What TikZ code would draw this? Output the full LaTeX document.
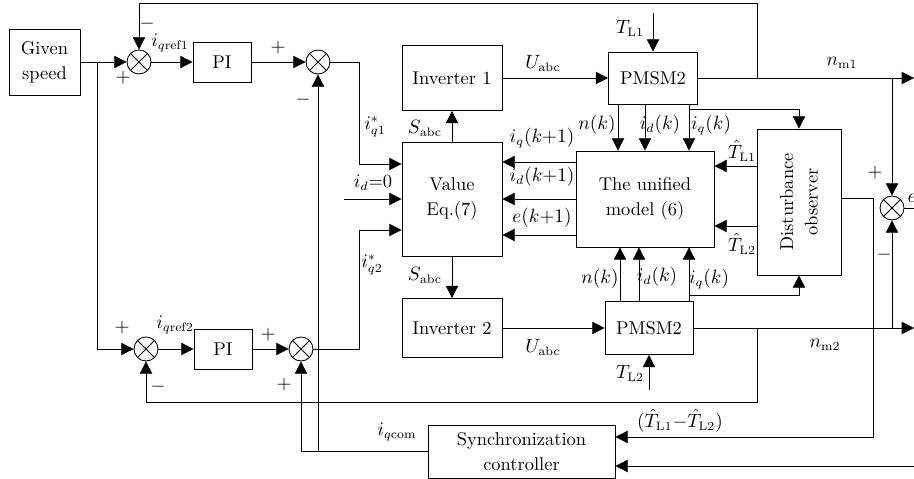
\documentclass[tikz,border=0pt]{standalone}
\usetikzlibrary{arrows.meta,calc}

\begin{document}
\begin{tikzpicture}[x=0.02cm,y=-0.02cm,line width=0.5pt,
  font=\fontsize{10.5}{14}\selectfont,
  >={Triangle[length=7pt,width=7pt]},
  blk/.style={draw,align=center,inner sep=1pt},
  sum/.style={draw,circle,minimum size=0.48cm,inner sep=0pt,
    path picture={\draw (path picture bounding box.north west) -- (path picture bounding box.south east)
      (path picture bounding box.north east) -- (path picture bounding box.south west);}},
  lbl/.style={inner sep=0.5pt}]
  \useasboundingbox (0,0) rectangle (914,479);

  % blocks
  \node[blk,minimum width=1.42cm,minimum height=1.32cm] (speed) at (44.5,62) {Given\\speed};
  \node[sum] (s1) at (139,62) {};
  \node[blk,minimum width=1.16cm,minimum height=0.8cm] (pi1) at (222,62) {PI};
  \node[sum] (s3) at (318,62) {};
  \node[sum] (s2) at (146,349) {};
  \node[blk,minimum width=1.16cm,minimum height=0.8cm] (pi2) at (223,349) {PI};
  \node[sum] (s4) at (301,349) {};
  \node[blk,minimum width=2cm,minimum height=2.28cm] (value) at (452,199) {Value\\Eq.(7)};
  \node[blk,minimum width=2cm,minimum height=1.3cm] (inv1) at (452,78) {Inverter 1};
  \node[blk,minimum width=2cm,minimum height=1.18cm] (inv2) at (452,328) {Inverter 2};
  \node[blk,minimum width=1.78cm,minimum height=1.04cm] (pmA) at (653,78) {PMSM2};
  \node[blk,minimum width=1.76cm,minimum height=1.06cm] (pmB) at (649,328) {PMSM2};
  \node[blk,minimum width=2.76cm,minimum height=1.92cm] (uni) at (645,199) {The unified\\model (6)};
  \node[blk,minimum width=1.68cm,minimum height=2.92cm] (obs) at (799,202) {};
  \node[rotate=90,align=center] (obstxt) at (obs) {Disturbance\\observer};
  \node[sum] (se) at (892,208) {};
  \node[blk,minimum width=3.74cm,minimum height=1.06cm] (sync) at (521.5,451.5) {Synchronization\\controller};

  % speed loops
  \coordinate (b1) at (97,62);
  \draw[->] (speed.east) -- (s1.west);
  \draw[->] (b1) |- (s2.west);
  \draw[->] (s1.east) -- (pi1.west);
  \draw[->] (pi1.east) -- (s3.west);
  \draw[->] (s2.east) -- (pi2.west);
  \draw[->] (pi2.east) -- (s4.west);

  % current references into Value
  \coordinate (c1) at (359,164);
  \coordinate (c2) at (344,199);
  \coordinate (c3) at (359,230);
  \draw[->] (s3.east) -| (c1) -- (c1 -| value.west);
  \draw[->] (c2) -- (value.west);
  \draw[->] (s4.east) -| (c3) -- (c3 -| value.west);

  % inverters and motors
  \draw[->] (value.north) -- (inv1.south);
  \draw[->] (value.south) -- (inv2.north);
  \draw[->] (inv1.east) -- (pmA.west);
  \draw[->] (inv2.east) -- (pmB.west);
  \coordinate (tl1) at (653,13);
  \coordinate (tl2) at (649,390);
  \draw[->] (tl1) -- (pmA.north);
  \draw[->] (tl2) -- (pmB.south);

  % measured states into the model
  \foreach \x [count=\i] in {618,645,689} {
    \coordinate (na\i) at (\x,0);
    \draw[->] (na\i |- pmA.south) -- (na\i |- uni.north);
  }
  \foreach \x [count=\i] in {620,639,689} {
    \coordinate (nb\i) at (\x,0);
    \draw[->] (nb\i |- pmB.north) -- (nb\i |- uni.south);
  }
  \coordinate (ba) at (689,109);
  \coordinate (bb) at (689,295);
  \draw[->] (ba) -| (obs.north);
  \draw[->] (bb) -| (obs.south);

  % predictions back to Value
  \foreach \y [count=\i] in {162,199,235} {
    \coordinate (u\i) at (0,\y);
    \draw[->] (u\i -| uni.west) -- (u\i -| value.east);
  }
  \foreach \y [count=\i] in {166,226} {
    \coordinate (o\i) at (0,\y);
    \draw[->] (o\i -| obs.west) -- (o\i -| uni.east);
  }

  % speed outputs and feedback
  \coordinate (out1) at (914,78);
  \coordinate (out2) at (914,328);
  \coordinate (out3) at (914,208);
  \draw[->] (pmA.east) -- (out1);
  \draw[->] (pmB.east) -- (out2);
  \coordinate (f1) at (757,78);
  \coordinate (t1) at (139,3);
  \coordinate (f2) at (757,328);
  \coordinate (t2) at (146,402);
  \draw[->] (f1) |- (t1) -- (s1.north);
  \draw[->] (f2) |- (t2) -- (s2.south);
  \draw[->] (se |- out1) -- (se.north);
  \draw[->] (se |- out2) -- (se.south);
  \draw (se.east) -- (out3);

  % synchronization path
  \coordinate (ob1) at (873,198);
  \coordinate (ob2) at (873,437);
  \coordinate (rin) at (914,466);
  \draw[->] (ob1 -| obs.east) -- (ob1) -- (ob2) -- (ob2 -| sync.east);
  \draw[->] (rin) -- (rin -| sync.east);
  \draw[->] (sync.west) -| (s4.south);
  \draw[->] (s3 |- sync.west) -- (s3.south);

  % labels
  \node[lbl] (lq1) at (170,43) {$i_{q\mathrm{ref1}}$};
  \node[lbl] (lq2) at (175,325) {$i_{q\mathrm{ref2}}$};
  \node[lbl] (p1) at (123,78) {$+$};
  \node[lbl] (m1) at (147,24) {$-$};
  \node[lbl] (p3) at (278,48) {$+$};
  \node[lbl] (m3) at (303,100) {$-$};
  \node[lbl] (p2) at (122,328) {$+$};
  \node[lbl] (m2) at (158,387) {$-$};
  \node[lbl] (p4a) at (268,335) {$+$};
  \node[lbl] (p4b) at (284,385) {$+$};
  \node[lbl] (pe) at (875,173) {$+$};
  \node[lbl] (me) at (884,255) {$-$};
  \node[lbl] (le) at (912,198) {$e$};
  \node[lbl] (liq1) at (375,127) {$i_{q1}^{*}$};
  \node[lbl] (lid0) at (373,183) {$i_d$=0};
  \node[lbl] (liq2) at (372,265) {$i_{q2}^{*}$};
  \node[lbl] (ls1) at (425,128) {$S_{\mathrm{abc}}$};
  \node[lbl] (ls2) at (425,275) {$S_{\mathrm{abc}}$};
  \node[lbl] (lu1) at (543,63) {$U_{\mathrm{abc}}$};
  \node[lbl] (lu2) at (543,347) {$U_{\mathrm{abc}}$};
  \node[lbl] (lt1) at (630,28) {$T_{\mathrm{L1}}$};
  \node[lbl] (lt2) at (630,373) {$T_{\mathrm{L2}}$};
  \node[lbl] (lna) at (597,125) {$n(k)$};
  \node[lbl] (lida) at (660,125) {$i_d(k)$};
  \node[lbl] (liqa) at (711,125) {$i_q(k)$};
  \node[lbl] (lnb) at (600,279) {$n(k)$};
  \node[lbl] (lidb) at (657,277) {$i_d(k)$};
  \node[lbl] (liqb) at (709,279) {$i_q(k)$};
  \node[lbl] (lpq) at (542,138) {$i_q(k{+}1)$};
  \node[lbl] (lpd) at (542,177) {$i_d(k{+}1)$};
  \node[lbl] (lpe) at (542,218) {$e(k{+}1)$};
  \node[lbl] (lh1) at (742,151) {$\hat{T}_{\mathrm{L1}}$};
  \node[lbl] (lh2) at (742,244) {$\hat{T}_{\mathrm{L2}}$};
  \node[lbl] (lnm1) at (842,63) {$n_{\mathrm{m1}}$};
  \node[lbl] (lnm2) at (825,345) {$n_{\mathrm{m2}}$};
  \node[lbl] (ldt) at (680,421) {$(\hat{T}_{\mathrm{L1}}{-}\hat{T}_{\mathrm{L2}})$};
  \node[lbl] (lcom) at (397,432) {$i_{q\mathrm{com}}$};
\end{tikzpicture}
\end{document}
